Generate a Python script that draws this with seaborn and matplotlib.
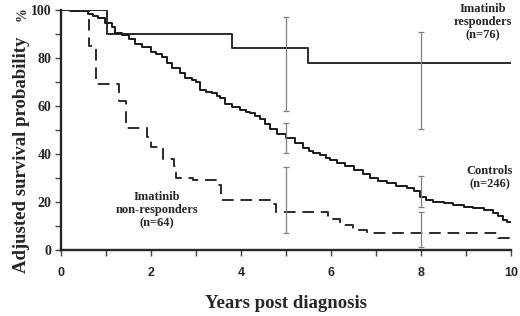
import numpy as np
import pandas as pd
import matplotlib
matplotlib.use("Agg")
import matplotlib.pyplot as plt
import seaborn as sns

# Curvas de sobrevida (degraus)
resp_t = [0, 1.02, 3.8, 5.49, 10]
resp_s = [100, 90, 84, 78, 78]

nonresp_t = [0, 0.62, 0.78, 1.29, 1.44, 1.91, 2.01, 2.27, 2.5, 2.56, 2.94, 3.44, 3.56,
             4.68, 4.77, 5.94, 6.2, 6.49, 6.79, 9.71, 10]
nonresp_s = [100, 85, 69, 62, 51, 47, 43, 38, 35, 30, 29, 27, 21,
             19, 16, 13, 10.5, 8.5, 7, 5, 5]

ctrl_t = [0, 0.2, 0.6, 0.7, 0.83, 0.98, 1.13, 1.2, 1.35, 1.5, 1.64, 1.8, 2.0, 2.12, 2.24,
          2.35, 2.46, 2.64, 2.76, 2.9, 3.01, 3.09, 3.22, 3.35, 3.46, 3.53, 3.64, 3.8, 3.98,
          4.1, 4.2, 4.3, 4.42, 4.53, 4.64, 4.8, 5.01, 5.2, 5.38, 5.5, 5.6, 5.76, 5.88, 5.98,
          6.13, 6.3, 6.5, 6.7, 6.87, 7.05, 7.24, 7.45, 7.68, 7.85, 7.98, 8.1, 8.27, 8.5,
          8.72, 8.95, 9.16, 9.4, 9.61, 9.72, 9.83, 9.9, 10]
ctrl_s = [100, 99.5, 98.5, 97.5, 96.5, 94.5, 93, 90.3, 89.6, 88, 86, 84.5, 82.6, 81.5, 80.5,
          78, 75.7, 73.6, 71.5, 70.8, 70.1, 66.7, 66, 65.3, 64, 63.2, 60.8, 59.5, 58.3,
          57.5, 56.9, 55.8, 54.5, 52.5, 50.5, 48.5, 46.7, 44.5, 42.4, 41.2, 40.3, 39.6, 38.2, 37.5,
          36.1, 34.8, 33.3, 31.5, 29.9, 28.8, 27.8, 26.8, 25.7, 24.5, 22.2, 21, 20.1, 19.5,
          18.75, 18, 17.4, 16.5, 15.3, 14, 12.5, 11.8, 11.8]

# Intervalos de confianca em 5 e 8 anos
ic_x = [5, 8]
resp_lo = [58, 50.4]
resp_hi = [97, 90.7]
ctrl_lo = [40.4, 18]
ctrl_hi = [53, 30.8]
nonresp_lo = [7, 1.4]
nonresp_hi = [34.4, 16]

sns.set_style("ticks")
plt.rcParams['font.family'] = ['Liberation Serif', 'DejaVu Serif']
plt.rcParams['font.weight'] = 'bold'

fig = plt.figure(figsize=(5.2, 3.16), dpi=100)
ax = fig.add_axes([61/520, 66/316, 450/520, 240/316])

df_resp = pd.DataFrame({"t": resp_t, "s": resp_s})
df_non = pd.DataFrame({"t": nonresp_t, "s": nonresp_s})
df_ctrl = pd.DataFrame({"t": ctrl_t, "s": ctrl_s})

sns.lineplot(data=df_resp, x="t", y="s", ax=ax, color="#2b2b2b", lw=1.4,
             drawstyle="steps-post", estimator=None)
sns.lineplot(data=df_ctrl, x="t", y="s", ax=ax, color="#1a1a1a", lw=1.4,
             drawstyle="steps-post", estimator=None)
sns.lineplot(data=df_non, x="t", y="s", ax=ax, color="#2b2b2b", lw=1.4,
             drawstyle="steps-post", estimator=None, linestyle=(0, (6, 3.5)))

# barras de erro
for lo, hi in [(resp_lo, resp_hi), (ctrl_lo, ctrl_hi), (nonresp_lo, nonresp_hi)]:
    lo = np.array(lo)
    hi = np.array(hi)
    mid = (lo + hi) / 2
    ax.errorbar(ic_x, mid, yerr=[mid - lo, hi - mid], fmt="none", ecolor="#808080",
                elinewidth=0.9, capsize=2.5, capthick=0.9)

ax.set_xlim(0, 10)
ax.set_ylim(0, 100)
ax.set_xticks(range(0, 11, 2))
ax.set_xticks(range(1, 10, 2), minor=True)
ax.set_yticks(range(0, 101, 20))
ax.set_yticks(range(10, 100, 20), minor=True)
ax.set_xlabel("")
ax.set_ylabel("")
sns.despine(ax=ax)
for sp in ["left", "bottom"]:
    ax.spines[sp].set_linewidth(1.7)
ax.tick_params(axis="both", which="both", direction="out", length=4, width=1, color="#444444")
ax.tick_params(axis="y", pad=3, labelsize=10)
ax.tick_params(axis="x", pad=8, labelsize=9)
for lab in ax.get_xticklabels():
    lab.set_fontfamily("Liberation Sans")
    lab.set_fontweight("bold")
for lab in ax.get_yticklabels():
    lab.set_fontweight("bold")

# rotulos das curvas
ax.text(9.38, 95, "Imatinib\nresponders\n(n=76)", ha="center", va="center",
        fontsize=9, fontweight="bold", linespacing=1.1)
ax.text(9.53, 30.2, "Controls\n(n=246)", ha="center", va="center",
        fontsize=9, fontweight="bold", linespacing=1.1)
ax.text(2.13, 16.7, "Imatinib\nnon-responders\n(n=64)", ha="center", va="center",
        fontsize=9, fontweight="bold", linespacing=1.1)

fig.text(22/520, 1 - 155/316, "Adjusted survival probability", rotation=90,
         ha="center", va="center", fontsize=13.5, fontweight="bold")
fig.text(22/520, 1 - 14/316, "%", rotation=90, ha="center", va="center",
         fontsize=10, fontweight="bold")
fig.text(286/520, 1 - 303/316, "Years post diagnosis", ha="center", va="center",
         fontsize=13.5, fontweight="bold")

fig.savefig("out.png", dpi=100)
